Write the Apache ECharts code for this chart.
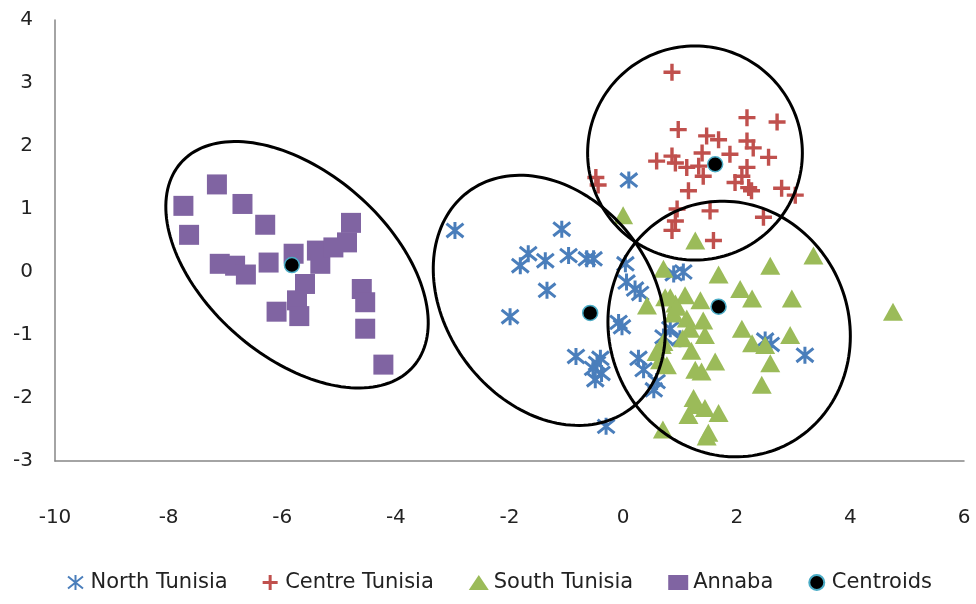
<!DOCTYPE html>
<html><head><meta charset="utf-8">
<script src="https://cdn.jsdelivr.net/npm/echarts@6/dist/echarts.min.js"></script>
<style>html,body{margin:0;padding:0;background:#fff}#c{width:976px;height:604px}</style>
</head><body><div id="c"></div>
<script>
const seriesNames = ['North Tunisia', 'Centre Tunisia', 'South Tunisia', 'Annaba', 'Centroids'];

const northTunisia = [
  [-2.96,0.66],[-1.08,0.68],[-1.67,0.29],[-1.81,0.10],[-1.37,0.18],[-0.96,0.26],[-0.64,0.21],[-0.52,0.21],
  [-1.34,-0.29],[-1.99,-0.71],[0.10,1.46],[0.04,0.13],[0.21,-0.27],[0.30,-0.34],[0.06,-0.16],[-0.08,-0.80],
  [-0.02,-0.87],[0.89,-0.03],[1.06,0.00],[1.00,-1.06],[0.83,-0.90],[-0.83,-1.34],[-0.40,-1.37],[-0.46,-1.45],
  [-0.38,-1.61],[-0.49,-1.71],[-0.53,-1.53],[0.27,-1.37],[0.36,-1.55],[0.59,-1.74],[0.54,-1.87],[0.71,-1.03],
  [-0.30,-2.45],[3.20,-1.32],[2.50,-1.08],[2.60,-1.15]
];
const centreTunisia = [
  [0.86,3.17],[2.18,2.45],[2.71,2.38],[0.97,2.26],[1.47,2.16],[1.68,2.10],[1.88,1.87],[1.39,1.89],
  [2.18,2.08],[2.29,1.97],[2.56,1.82],[0.59,1.76],[0.86,1.84],[0.92,1.73],[1.12,1.66],[1.33,1.68],
  [1.41,1.52],[1.15,1.29],[2.18,1.66],[2.09,1.52],[1.97,1.42],[2.21,1.34],[2.26,1.29],[2.79,1.33],
  [3.03,1.22],[-0.48,1.50],[-0.44,1.38],[0.95,1.00],[1.53,0.97],[0.92,0.81],[0.86,0.66],[2.47,0.87],[1.59,0.50]
];
const southTunisia = [
  [0.00,0.90],[1.27,0.50],[3.35,0.26],[2.59,0.10],[1.68,-0.04],[0.71,0.05],[2.06,-0.27],[2.27,-0.42],
  [2.97,-0.42],[0.42,-0.53],[0.74,-0.40],[0.92,-0.50],[1.09,-0.37],[1.36,-0.45],[0.89,-0.66],[1.41,-0.77],
  [2.09,-0.90],[1.44,-1.00],[2.27,-1.13],[2.50,-1.16],[2.94,-1.00],[0.68,-1.16],[0.65,-1.40],[0.77,-1.48],
  [2.59,-1.45],[1.62,-1.42],[1.38,-1.58],[2.44,-1.79],[1.27,-2.11],[1.44,-2.16],[1.68,-2.24],[1.15,-2.27],
  [0.70,-2.50],[1.47,-2.61],[4.75,-0.63],[1.27,-1.55],[1.24,-2.00],[0.83,-0.40],[0.94,-0.55],[1.12,-0.74],
  [1.18,-0.90],[0.59,-1.27],[0.71,-1.11],[1.05,-1.05],[1.20,-1.25],[1.50,-2.55]
];
const annaba = [
  [-7.15,1.39],[-7.74,1.05],[-6.70,1.08],[-6.30,0.75],[-7.64,0.59],[-7.10,0.13],[-6.83,0.10],[-6.64,-0.04],
  [-6.24,0.15],[-5.80,0.29],[-5.39,0.34],[-5.33,0.13],[-5.10,0.39],[-4.86,0.47],[-4.79,0.78],[-5.60,-0.19],
  [-5.74,-0.45],[-6.10,-0.63],[-5.70,-0.70],[-4.60,-0.27],[-4.54,-0.48],[-4.54,-0.90],[-4.22,-1.47]
];
const centroids = [[-5.83,0.11],[-0.58,-0.65],[1.62,1.71],[1.68,-0.55]];
// cluster ellipses: centre x, centre y, semi-axis a, semi-axis b (x-axis units), rotation (deg)
const clusterEllipses = [
  [-5.74,0.115,2.72,1.625,41.2],
  [-1.30,-0.45,2.385,1.824,53.3],
  [1.265,1.89,1.89,1.884,0],
  [1.866,-0.905,2.275,2.107,67]
];

const chart = echarts.init(document.getElementById('c'));
const FONT = 'DejaVu Sans';

function renderEllipse(params, api) {
  const c = api.coord([api.value(0), api.value(1)]);
  const unit = api.size([1, 0])[0];
  const a = api.value(2) * unit, b = api.value(3) * unit, r = api.value(4) * Math.PI / 180;
  const pts = [];
  for (let i = 0; i < 160; i++) {
    const t = i / 160 * 2 * Math.PI;
    const ex = a * Math.cos(t), ey = b * Math.sin(t);
    pts.push([c[0] + ex * Math.cos(r) - ey * Math.sin(r), c[1] + ex * Math.sin(r) + ey * Math.cos(r)]);
  }
  return { type: 'polygon', shape: { points: pts }, style: { fill: 'none', stroke: '#000', lineWidth: 3 } };
}

chart.setOption({
  animation: false,
  backgroundColor: '#fff',
  grid: { left: 55, right: 12, top: 20, bottom: 143 },
  xAxis: {
    type: 'value', min: -10, max: 6, interval: 2,
    axisLine: { show: true, onZero: false, lineStyle: { color: '#868686', width: 1.5 } },
    axisTick: { show: false }, splitLine: { show: false },
    axisLabel: { fontFamily: FONT, fontSize: 20, color: '#222', margin: 47 }
  },
  yAxis: {
    type: 'value', min: -3, max: 4, interval: 1,
    axisLine: { show: true, onZero: false, lineStyle: { color: '#868686', width: 1.5 } },
    axisTick: { show: false }, splitLine: { show: false },
    axisLabel: { fontFamily: FONT, fontSize: 20, color: '#222', margin: 22 }
  },
  legend: {
    data: seriesNames,
    top: 567, left: 62,
    itemWidth: 20, itemHeight: 15, itemGap: 35,
    textStyle: { fontFamily: FONT, fontSize: 21, color: '#222' }
  },
  series: [
    { name: seriesNames[0], type: 'scatter', data: northTunisia,
      symbol: 'path://M0,1L10,9M10,1L0,9M5,0L5,10', symbolSize: 17,
      itemStyle: { color: '#4a7ebb', borderColor: '#4a7ebb', borderWidth: 3, opacity: 1 } },
    { name: seriesNames[1], type: 'scatter', data: centreTunisia,
      symbol: 'path://M4,0H6V4H10V6H6V10H4V6H0V4H4Z', symbolSize: 17,
      itemStyle: { color: '#c0504d', opacity: 1 } },
    { name: seriesNames[2], type: 'scatter', data: southTunisia,
      symbol: 'triangle', symbolSize: [20, 18],
      itemStyle: { color: '#9bbb59', opacity: 1 } },
    { name: seriesNames[3], type: 'scatter', data: annaba,
      symbol: 'rect', symbolSize: 20,
      itemStyle: { color: '#8064a2', opacity: 1 } },
    { name: seriesNames[4], type: 'scatter', data: centroids,
      symbol: 'circle', symbolSize: 15,
      itemStyle: { color: '#000', borderColor: '#4bacc6', borderWidth: 1.5, opacity: 1 } },
    { name: 'ellipses', type: 'custom', data: clusterEllipses, renderItem: renderEllipse,
      encode: { x: 0, y: 1 }, silent: true, z: 10, clip: false }
  ]
});
</script></body></html>
